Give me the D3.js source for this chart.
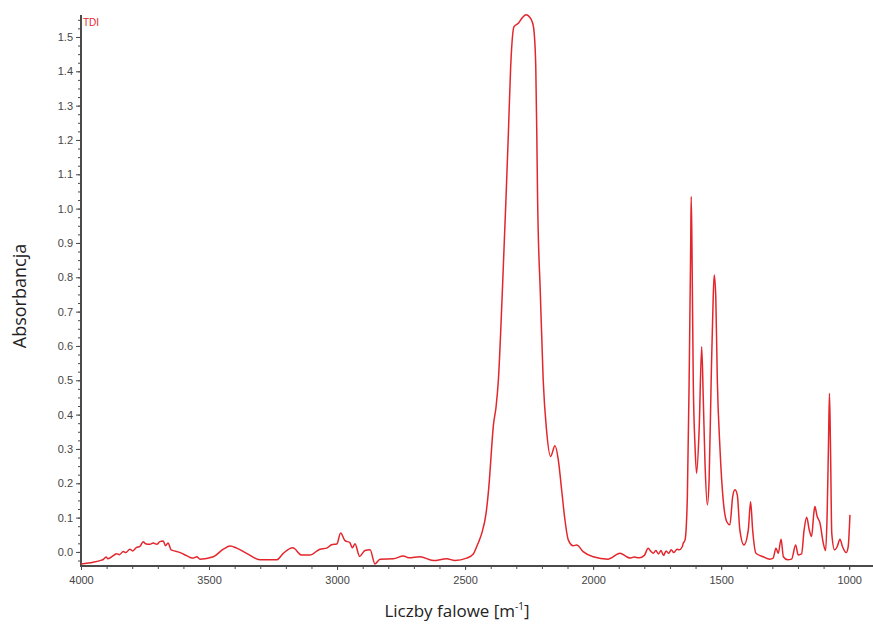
<!DOCTYPE html>
<html>
<head>
<meta charset="utf-8">
<script src="https://cdn.jsdelivr.net/npm/d3@7"></script>
<style>
  body { margin: 0; background: #fff; }
  #chart { width: 873px; height: 625px; }
</style>
</head>
<body>
<div id="chart"></div>
<script>
// Spectrum: wavenumber and absorbance
const wavenumbers = [
  4000, 3952, 3920, 3913, 3902, 3895, 3874, 3861, 3850, 3835, 3825, 3809, 3798, 3783, 3770,
  3757, 3748, 3731, 3718, 3704, 3692, 3679, 3670, 3660, 3648, 3630, 3613, 3590, 3574, 3561,
  3548, 3535, 3483, 3444, 3418, 3392, 3353, 3301, 3236, 3210, 3173, 3138, 3106, 3067, 3041,
  3021, 3001, 2986, 2969, 2950, 2940, 2930, 2912, 2891, 2871, 2852, 2832, 2780, 2741, 2720,
  2676, 2624, 2572, 2540, 2494, 2468, 2455, 2444, 2435, 2418, 2405, 2396, 2390, 2379, 2370,
  2355, 2340, 2331, 2322, 2309, 2292, 2279, 2262, 2249, 2236, 2230, 2224, 2220, 2217, 2206,
  2195, 2182, 2166, 2149, 2136, 2123, 2110, 2097, 2078, 2064, 2039, 2000, 1941, 1895, 1869,
  1856, 1840, 1820, 1800, 1785, 1775, 1765, 1755, 1745, 1735, 1725, 1715, 1705, 1695, 1685,
  1672, 1664, 1652, 1648, 1641, 1632, 1625, 1619, 1617,
  1614, 1609, 1602, 1596, 1586, 1576, 1570, 1563, 1554, 1547, 1539, 1531, 1527, 1521, 1515,
  1505, 1492, 1478, 1466, 1455, 1446, 1437, 1427, 1411, 1394, 1385, 1377, 1364, 1336, 1310,
  1297, 1286, 1277, 1266, 1257, 1240, 1225, 1209, 1199, 1186, 1176, 1166, 1156, 1147, 1138,
  1134, 1125, 1114, 1101, 1092, 1086, 1081, 1077, 1073, 1068, 1057, 1047, 1036, 1026, 1012,
  1004, 997
];
const absorbance = [
  -0.035, -0.030, -0.024, -0.022, -0.015, -0.020, -0.011, -0.005, -0.008, 0.001, -0.002, 0.008, 0.003, 0.013, 0.016,
  0.030, 0.024, 0.022, 0.026, 0.022, 0.030, 0.032, 0.018, 0.026, 0.006, 0.002, -0.002, -0.010, -0.016, -0.018,
  -0.014, -0.021, -0.014, 0.008, 0.017, 0.011, -0.004, -0.023, -0.023, -0.004, 0.012, -0.009, -0.009, 0.008, 0.011,
  0.021, 0.023, 0.055, 0.033, 0.027, 0.012, 0.024, -0.013, 0.004, 0.006, -0.035, -0.021, -0.020, -0.012, -0.017,
  -0.014, -0.025, -0.020, -0.025, -0.018, -0.006, 0.015, 0.035, 0.054, 0.113, 0.210, 0.307, 0.365, 0.423, 0.501,
  0.750, 1.035, 1.219, 1.413, 1.530, 1.540, 1.554, 1.565, 1.559, 1.540, 1.510, 1.413, 1.219, 1.035, 0.750,
  0.501, 0.355, 0.278, 0.309, 0.268, 0.181, 0.093, 0.035, 0.018, 0.020, 0.001, -0.014, -0.021, -0.004, -0.014,
  -0.018, -0.015, -0.017, -0.010, 0.011, 0.002, -0.004, 0.004, -0.006, 0.004, -0.010, 0.003, -0.004, 0.006, -0.002,
  0.008, 0.006, 0.015, 0.025, 0.035, 0.161, 0.501, 0.889, 1.035,
  0.889, 0.501, 0.307, 0.229, 0.355, 0.598, 0.452, 0.258, 0.137, 0.210, 0.501, 0.743, 0.807, 0.743, 0.501,
  0.307, 0.151, 0.088, 0.079, 0.161, 0.181, 0.166, 0.064, 0.020, 0.064, 0.146, 0.064, -0.004, -0.014, -0.021,
  -0.018, 0.011, -0.004, 0.037, -0.014, -0.023, -0.021, 0.020, -0.009, -0.006, 0.064, 0.101, 0.064, 0.045, 0.113,
  0.132, 0.103, 0.084, 0.025, 0.004, 0.113, 0.307, 0.462, 0.307, 0.054, 0.006, 0.015, 0.037, 0.015, -0.002,
  0.015, 0.108
];

const xTicks = [4000, 3500, 3000, 2500, 2000, 1500, 1000];
const yTicks = [0.0, 0.1, 0.2, 0.3, 0.4, 0.5, 0.6, 0.7, 0.8, 0.9, 1.0, 1.1, 1.2, 1.3, 1.4, 1.5];
const seriesName = "TDI";

const width = 873, height = 625;
const svg = d3.select("#chart").append("svg")
  .attr("width", width)
  .attr("height", height);

// Scales
const x = d3.scaleLinear().domain([4000, 907]).range([81, 873]);
const y = d3.scaleLinear().domain([-0.041, 1.564]).range([566, 15]);

const axisColor = "#4a4a4a";
const tickFont = "Arial, 'Liberation Sans', sans-serif";

// Minor ticks
const xMinor = d3.range(4000, 907, -100);
const yMinor = d3.range(-0.025, 1.564, 0.025);

svg.append("g")
  .attr("transform", "translate(0,566)")
  .call(d3.axisBottom(x).tickValues(xMinor).tickSize(3).tickFormat(""))
  .call(g => g.select(".domain").remove())
  .call(g => g.selectAll("line").attr("stroke", axisColor));

svg.append("g")
  .attr("transform", "translate(81,0)")
  .call(d3.axisLeft(y).tickValues(yMinor).tickSize(3).tickFormat(""))
  .call(g => g.select(".domain").remove())
  .call(g => g.selectAll("line").attr("stroke", axisColor));

// Major ticks with labels
svg.append("g")
  .attr("transform", "translate(0,566)")
  .call(d3.axisBottom(x).tickValues(xTicks).tickSize(4).tickPadding(6).tickFormat(d3.format("d")))
  .call(g => g.select(".domain").remove())
  .call(g => g.selectAll("line").attr("stroke", axisColor))
  .call(g => g.selectAll("text")
    .attr("fill", "#454545")
    .style("font-family", tickFont)
    .style("font-size", "11px"));

svg.append("g")
  .attr("transform", "translate(81,0)")
  .call(d3.axisLeft(y).tickValues(yTicks).tickSize(5).tickPadding(3).tickFormat(d3.format(".1f")))
  .call(g => g.select(".domain").remove())
  .call(g => g.selectAll("line").attr("stroke", axisColor))
  .call(g => g.selectAll("text")
    .attr("fill", "#454545")
    .style("font-family", tickFont)
    .style("font-size", "11px"));

// Axis lines
svg.append("line")
  .attr("x1", 81).attr("x2", 81)
  .attr("y1", y.range()[1]).attr("y2", y.range()[0] + 1)
  .attr("stroke", axisColor)
  .attr("stroke-width", 2);

svg.append("line")
  .attr("x1", 80).attr("x2", x.range()[1])
  .attr("y1", 566).attr("y2", 566)
  .attr("stroke", axisColor)
  .attr("stroke-width", 2);

// Spectrum line
const points = wavenumbers.map((w, i) => [w, absorbance[i]]);
const line = d3.line()
  .x(d => x(d[0]))
  .y(d => y(d[1]))
  .curve(d3.curveMonotoneX);

svg.append("path")
  .datum(points)
  .attr("d", line)
  .attr("fill", "none")
  .attr("stroke", "#e3262c")
  .attr("stroke-width", 1.5)
  .attr("stroke-linejoin", "round");

// Series name
svg.append("text")
  .attr("x", 83)
  .attr("y", 26)
  .attr("fill", "#e3262c")
  .style("font-family", tickFont)
  .style("font-size", "10px")
  .text(seriesName);

// Axis titles
svg.append("text")
  .attr("transform", "translate(26,296) rotate(-90)")
  .attr("text-anchor", "middle")
  .attr("fill", "#222")
  .style("font-family", "'Open Sans', sans-serif")
  .style("font-size", "18px")
  .text("Absorbancja");

const xTitle = svg.append("text")
  .attr("x", 457)
  .attr("y", 617)
  .attr("text-anchor", "middle")
  .attr("fill", "#222")
  .style("font-family", "'Open Sans', sans-serif")
  .style("font-size", "17px");
xTitle.append("tspan").text("Liczby falowe [m");
xTitle.append("tspan").attr("dy", -7).style("font-size", "10px").text("-1");
xTitle.append("tspan").attr("dy", 7).text("]");
</script>
</body>
</html>
